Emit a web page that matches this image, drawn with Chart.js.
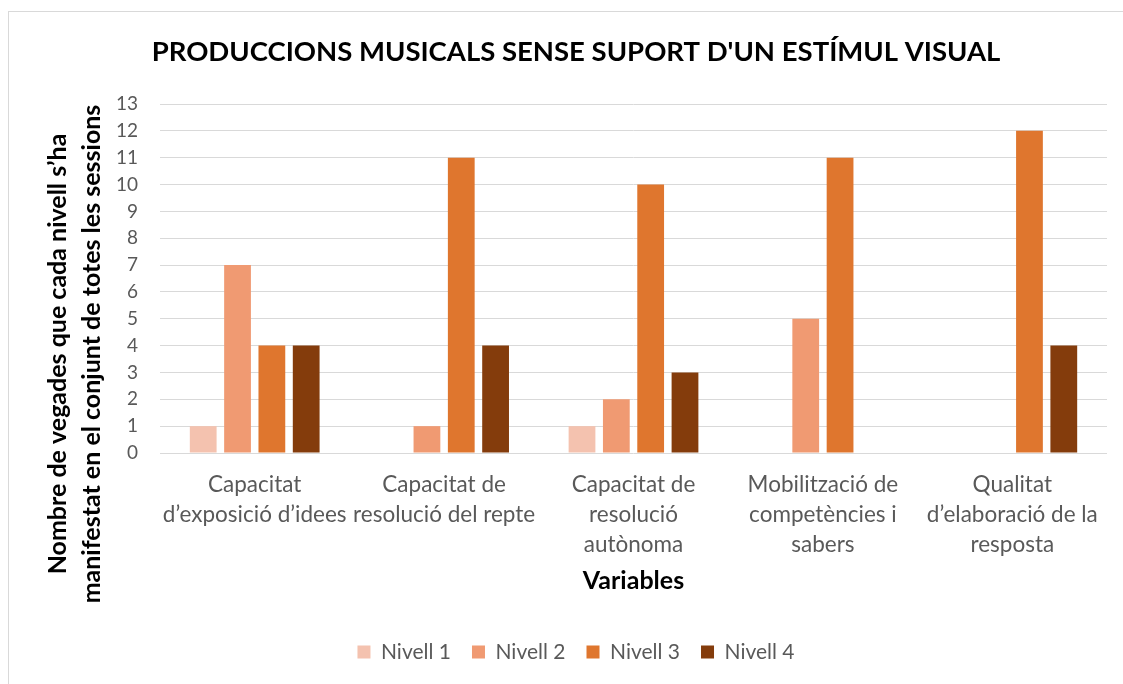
<!DOCTYPE html>
<html><head><meta charset="utf-8">
<script src="https://cdn.jsdelivr.net/npm/chart.js@4.4.0/dist/chart.umd.min.js"></script>
<style>
html,body{margin:0;padding:0;background:#fff;overflow:hidden;width:1123px;height:684px;}
#frame{position:absolute;left:8px;top:11px;width:1160px;height:700px;border:1px solid #d9d9d9;box-sizing:border-box;}
#wrap{position:absolute;left:9px;top:12px;width:1134px;height:680px;}
</style></head><body>
<div id="frame"></div>
<div id="wrap"><canvas id="c"></canvas></div>
<script>
const chartTitle = "PRODUCCIONS MUSICALS SENSE SUPORT D'UN ESTÍMUL VISUAL";
const yTitleLines = ["Nombre de vegades que cada nivell s’ha", "manifestat en el conjunt de totes les sessions"];
const xTitle = "Variables";
const categories = [
  ["Capacitat", "d’exposició d’idees"],
  ["Capacitat de", "resolució del repte"],
  ["Capacitat de", "resolució", "autònoma"],
  ["Mobilització de", "competències i", "sabers"],
  ["Qualitat", "d’elaboració de la", "resposta"]
];
const seriesNames = ["Nivell 1", "Nivell 2", "Nivell 3", "Nivell 4"];
const nivell1 = [1, 0, 1, 0, 0];
const nivell2 = [7, 1, 2, 5, 0];
const nivell3 = [4, 11, 10, 11, 12];
const nivell4 = [4, 4, 3, 0, 4];
const yMin = 0, yMax = 13, yStep = 1;

const colors = ["#F4C2AF", "#F09A72", "#DF762E", "#843C0C"];
const FONT = "Lato, 'Open Sans', sans-serif";
const seriesValues = [nivell1, nivell2, nivell3, nivell4];

const yTitlePlugin = {
  id: 'yTitle',
  afterDraw(chart) {
    const ctx = chart.ctx;
    ctx.save();
    ctx.translate(49, 342);
    ctx.rotate(-Math.PI / 2);
    ctx.font = "bold 25px " + FONT;
    ctx.fillStyle = "#000";
    ctx.textAlign = "center";
    ctx.textBaseline = "middle";
    yTitleLines.forEach((l, i) => ctx.fillText(l, 0, i * 34));
    ctx.restore();
  }
};

new Chart(document.getElementById('c'), {
  type: 'bar',
  data: {
    labels: categories,
    datasets: seriesNames.map((n, i) => ({
      label: n,
      data: seriesValues[i],
      backgroundColor: colors[i],
      borderWidth: 0,
      categoryPercentage: 0.725,
      barPercentage: 0.78
    }))
  },
  options: {
    responsive: true,
    maintainAspectRatio: false,
    animation: false,
    layout: { padding: { left: 0, right: 0, top: 0, bottom: 19.5 } },
    plugins: {
      title: {
        display: true, text: chartTitle, color: "#000",
        font: { family: FONT, size: 27.5, weight: 'bold', lineHeight: 1.2 },
        padding: { top: 23.5, bottom: 35.5 }
      },
      legend: {
        position: 'bottom',
        labels: {
          boxWidth: 13, boxHeight: 13, padding: 21, color: "#595959",
          font: { family: FONT, size: 21 }
        }
      },
      tooltip: { enabled: false }
    },
    scales: {
      x: {
        grid: { display: false, drawTicks: false },
        border: { display: false },
        ticks: { color: "#595959", padding: 17, font: { family: FONT, size: 22.5, lineHeight: 1.33 }, maxRotation: 0, autoSkip: false },
        title: { display: true, text: xTitle, color: "#000", font: { family: FONT, size: 25, weight: 'bold', lineHeight: 1.2 }, padding: { top: 4, bottom: 25 } },
        afterFit(s) { s.height = 167.5; }
      },
      y: {
        min: yMin, max: yMax,
        grid: { color: "#D9D9D9", lineWidth: 1, drawTicks: false },
        border: { display: false },
        ticks: { stepSize: yStep, autoSkip: false, color: "#595959", padding: 22, font: { family: FONT, size: 19 } },
        afterFit(s) { s.width = 151; }
      },
      spacer: {
        position: 'right', display: true,
        grid: { display: false, drawTicks: false },
        border: { display: false },
        ticks: { display: false },
        afterFit(s) { s.width = 36; }
      }
    }
  },
  plugins: [yTitlePlugin]
});
</script>
</body></html>
